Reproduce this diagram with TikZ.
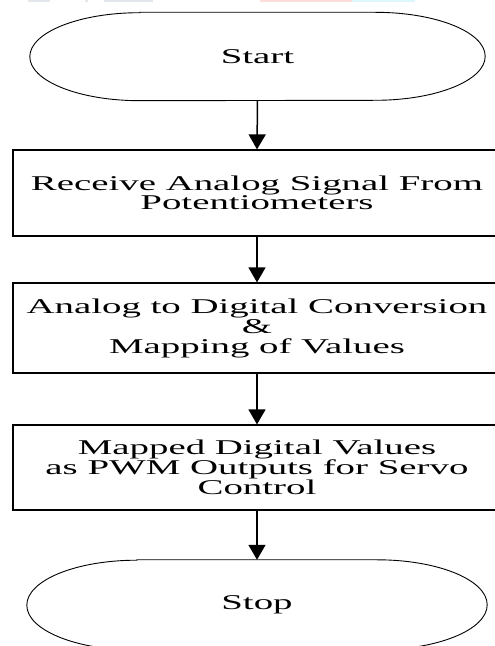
\documentclass[tikz,border=0pt]{standalone}
\usepackage{fontspec}
\setmainfont{Liberation Serif}[FakeStretch=1.85]
\usetikzlibrary{arrows.meta,calc}
\definecolor{hdrgray}{HTML}{E3E7EC}
\definecolor{hdrpink}{HTML}{FFDCDC}
\definecolor{hdrcyan}{HTML}{DCF8FC}
\begin{document}
\begin{tikzpicture}[x=1pt,y=1pt,
  proc/.style={draw,line width=1.2pt,minimum width=488pt,inner sep=0pt,align=center,
    font=\fontsize{21}{20}\selectfont},
  term/.style={minimum width=#1,minimum height=88pt,inner sep=0pt,
    font=\fontsize{21}{24}\selectfont},
  flow/.style={line width=1.5pt,-{Triangle[width=17pt,length=15pt]}},
  oval/.style={line width=0.9pt}]
\useasboundingbox (0,0) rectangle (495,646);
% faint header remnants
\fill[hdrgray] (28,643.5) rectangle (50,646);
\fill[hdrgray] (85,643.5) rectangle (88,646);
\fill[hdrgray] (104,643.5) rectangle (153,646);
\fill[hdrpink] (260,644) rectangle (352,646);
\fill[hdrcyan] (352,644) rectangle (415,646);
% nodes
\node[term=455pt] (start) at (257.5,589.5) {Start};
\node[proc,minimum height=86pt] (b1) at (257,453) {Receive Analog Signal From\\[-1pt]Potentiometers};
\node[proc,minimum height=90pt] (b2) at (257,318) {Analog to Digital Conversion\\\&\\Mapping of Values};
\node[proc,minimum height=85pt] (b3) at (257,178.5) {Mapped Digital Values\\as PWM Outputs for Servo\\Control};
\node[term=460pt,minimum height=90pt] (stop) at (257,41) {Stop};
% terminal outlines
\draw[oval] ($(start.north west)+(110,0)$) -- ($(start.north east)+(-110,0)$)
  arc[start angle=90,end angle=-90,x radius=110,y radius=44]
  -- ($(start.south west)+(110,0)$)
  arc[start angle=270,end angle=90,x radius=110,y radius=44] -- cycle;
\draw[oval] ($(stop.north west)+(110,0)$) -- ($(stop.north east)+(-110,0)$)
  arc[start angle=90,end angle=-90,x radius=110,y radius=45]
  -- ($(stop.south west)+(110,0)$)
  arc[start angle=270,end angle=90,x radius=110,y radius=45] -- cycle;
% connectors
\draw[flow] (start.south) -- (b1.north);
\draw[flow] (b1.south) -- (b2.north);
\draw[flow] (b2.south) -- (b3.north);
\draw[flow] (b3.south) -- (stop.north);
\end{tikzpicture}
\end{document}
